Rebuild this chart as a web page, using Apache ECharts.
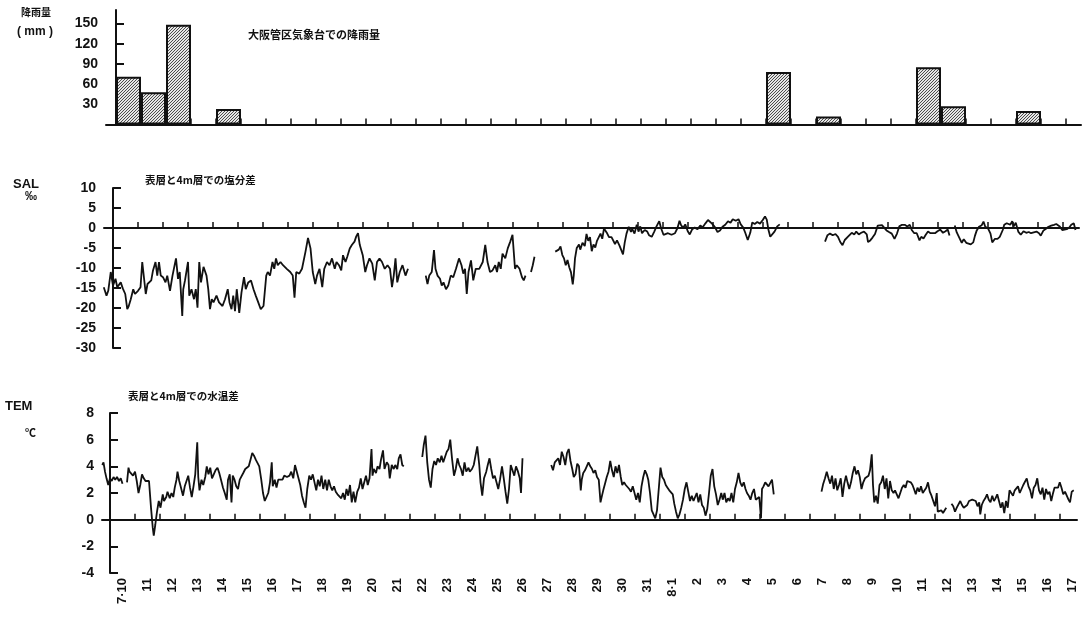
<!DOCTYPE html>
<html><head><meta charset="utf-8">
<script src="https://cdn.jsdelivr.net/npm/echarts@6/dist/echarts.min.js"></script>
<style>html,body{margin:0;padding:0;background:#fff}#c{width:1084px;height:617px}</style>
</head><body><div id="c"></div><script>
const dayLabels = ['7·10','11','12','13','14','15','16','17','18','19','20','21','22','23','24','25','26','27','28','29','30','31','8·1','2','3','4','5','6','7','8','9','10','11','12','13','14','15','16','17'];
const rainDays = [0,1,2,4,26,28,32,33,36];
const rainMM = [71,48,148,23,78,12,85,27,20];
const rainTicks = [30,60,90,120,150];
const salTicks = [10,5,0,-5,-10,-15,-20,-25,-30];
const temTicks = [8,6,4,2,0,-2,-4];

const salSeg1 = [[-0.37,-14.8],[-0.26,-16.9],[-0.19,-15.7],[-0.09,-11.0],[0.00,-14.4],[0.10,-12.7],[0.17,-14.8],[0.31,-13.6],[0.39,-15.1],[0.49,-16.5],[0.57,-20.3],[0.63,-19.5],[0.71,-17.8],[0.81,-15.3],[0.88,-16.5],[1.00,-15.7],[1.10,-14.8],[1.17,-8.5],[1.24,-8.5],[1.31,-16.5],[1.38,-14.0],[1.46,-13.6],[1.53,-13.1],[1.60,-10.6],[1.70,-8.5],[1.77,-11.9],[1.84,-8.5],[1.91,-11.9],[2.00,-12.3],[2.10,-13.6],[2.17,-11.9],[2.28,-15.7],[2.38,-11.9],[2.52,-7.6],[2.60,-12.7],[2.67,-11.0],[2.77,-22.0],[2.81,-15.3],[2.88,-13.1],[3.00,-8.5],[3.05,-16.9],[3.14,-15.3],[3.24,-17.8],[3.31,-15.3],[3.38,-19.9],[3.45,-8.5],[3.52,-13.6],[3.62,-9.7],[3.74,-11.9],[3.81,-15.3],[3.88,-20.3],[3.95,-17.8],[4.02,-18.6],[4.14,-16.9],[4.24,-18.6],[4.38,-19.5],[4.48,-17.8],[4.59,-15.3],[4.66,-18.6],[4.74,-20.3],[4.81,-16.9],[4.88,-20.8],[4.95,-15.3],[5.05,-21.2],[5.14,-16.1],[5.24,-12.3],[5.31,-15.3],[5.41,-13.6],[5.52,-13.1],[5.62,-15.3],[5.71,-16.9],[5.81,-18.6],[5.91,-20.3],[6.02,-19.5],[6.13,-11.9],[6.19,-11.0],[6.28,-11.9],[6.38,-8.5],[6.45,-10.2],[6.52,-7.6],[6.59,-9.3],[6.70,-8.5],[6.80,-9.3],[6.95,-10.2],[7.09,-11.0],[7.19,-11.9],[7.26,-17.4],[7.33,-11.0],[7.45,-11.4],[7.56,-10.2],[7.70,-5.9],[7.80,-2.5],[7.90,-5.1],[7.99,-11.0],[8.09,-14.0],[8.16,-11.9],[8.26,-10.2],[8.37,-14.8],[8.45,-10.2],[8.56,-8.5],[8.66,-9.3],[8.76,-7.6],[8.87,-10.2],[8.94,-8.5],[9.04,-9.3],[9.13,-10.6],[9.20,-6.8],[9.30,-8.5],[9.37,-7.2],[9.47,-5.1],[9.56,-4.2],[9.66,-3.4],[9.73,-2.1],[9.80,-1.3],[9.87,-4.2],[9.99,-6.8],[10.09,-11.0],[10.16,-9.3],[10.26,-7.6],[10.37,-8.9],[10.47,-13.1],[10.56,-8.5],[10.66,-7.6],[10.76,-8.5],[10.87,-10.2],[10.98,-9.3],[11.08,-10.2],[11.16,-14.8],[11.23,-11.9],[11.30,-7.6],[11.37,-13.6],[11.47,-11.0],[11.58,-9.3],[11.70,-11.9],[11.80,-10.2]];
const salSeg2 = [[12.51,-11.9],[12.58,-14.0],[12.65,-11.9],[12.75,-11.0],[12.84,-5.5],[12.90,-10.2],[12.98,-11.9],[13.08,-12.7],[13.15,-14.4],[13.22,-13.6],[13.32,-15.3],[13.41,-14.4],[13.51,-11.9],[13.61,-12.3],[13.72,-10.2],[13.84,-7.6],[13.94,-9.3],[14.01,-11.4],[14.08,-10.2],[14.15,-16.5],[14.22,-11.0],[14.32,-8.1],[14.41,-13.1],[14.51,-10.2],[14.65,-10.2],[14.79,-8.5],[14.89,-4.2],[14.98,-8.5],[15.08,-11.0],[15.18,-10.6],[15.29,-9.3],[15.36,-11.0],[15.43,-8.5],[15.51,-10.2],[15.58,-6.4],[15.69,-7.6],[15.79,-5.1],[15.89,-3.4],[15.98,-1.7],[16.08,-10.2],[16.15,-9.3],[16.26,-10.2],[16.36,-12.3],[16.43,-13.1],[16.50,-11.9]];
const salSeg3 = [[16.72,-11.0],[16.79,-9.3],[16.86,-7.2]];
const salSeg4 = [[17.69,-5.9],[17.76,-6.3],[17.83,-5.4],[17.90,-4.6],[17.97,-6.7],[18.04,-7.6],[18.11,-9.3],[18.18,-8.0],[18.25,-9.8],[18.32,-11.1],[18.39,-14.1],[18.43,-11.9],[18.48,-7.6],[18.55,-5.0],[18.64,-4.1],[18.69,-5.4],[18.78,-3.7],[18.87,-4.5],[18.94,-1.5],[19.01,-3.2],[19.08,-2.3],[19.15,-5.8],[19.22,-4.1],[19.29,-4.9],[19.36,-3.2],[19.43,-3.6],[19.50,-1.4],[19.57,-2.7],[19.64,-0.1],[19.70,-0.5],[19.77,-1.4],[19.84,-2.3],[19.94,-2.3],[20.02,-2.7],[20.08,-4.0],[20.16,-3.1],[20.26,-4.4],[20.33,-4.0],[20.40,-6.6],[20.47,-3.6],[20.54,-1.4],[20.63,0.3],[20.72,-1.0],[20.77,-0.2],[20.86,-1.4],[20.95,0.8],[21.02,-0.9],[21.09,0.4],[21.16,-1.3],[21.27,-0.5],[21.37,-0.9],[21.44,-1.8],[21.55,-2.2],[21.65,-0.9],[21.74,0.4],[21.85,1.7],[21.92,0.0],[22.02,-1.7],[22.10,-1.7],[22.20,-1.3],[22.34,-1.7],[22.48,-1.3],[22.58,0.0],[22.66,1.8],[22.71,0.9],[22.80,0.0],[22.89,0.9],[22.99,-0.8],[23.07,-1.6],[23.17,-0.3],[23.27,0.1],[23.38,-0.3],[23.49,0.6],[23.59,0.2],[23.69,1.1],[23.80,2.0],[23.87,2.4],[23.96,1.1],[24.07,0.3],[24.18,-1.0],[24.28,-0.6],[24.38,0.3],[24.49,0.8],[24.60,1.7],[24.70,1.3],[24.79,2.2],[24.91,1.8],[25.02,2.2],[25.11,0.9],[25.21,0.1],[25.29,-1.2],[25.39,-3.0],[25.49,-1.2],[25.57,1.4],[25.67,1.0],[25.77,1.5],[25.88,1.1],[25.99,2.0],[26.08,2.9],[26.15,2.1],[26.22,-0.5],[26.29,-2.2],[26.36,-1.8],[26.46,-0.9],[26.57,0.4],[26.67,0.9]];
const salSeg5 = [[28.48,-3.4],[28.58,-1.8],[28.68,-1.4],[28.79,-1.8],[28.90,-1.5],[29.00,-2.2],[29.09,-3.5],[29.18,-4.3],[29.27,-3.0],[29.34,-3.4],[29.41,-2.1],[29.48,-2.5],[29.55,-1.2],[29.65,-1.6],[29.73,-0.9],[29.83,-1.6],[29.93,-1.2],[30.04,-0.9],[30.15,-1.6],[30.20,-3.5],[30.29,-3.1],[30.38,-2.4],[30.48,-1.5],[30.59,0.6],[30.66,1.1],[30.76,0.7],[30.84,0.3],[30.94,-0.6],[31.04,-1.0],[31.15,-1.4],[31.26,-2.7],[31.36,-1.4],[31.45,0.4],[31.56,0.8],[31.67,0.8],[31.77,0.4],[31.87,0.8],[31.95,-0.5],[32.05,-1.3],[32.15,-1.3],[32.26,-3.1],[32.33,-2.2],[32.42,-2.6],[32.51,-1.7],[32.60,-0.9],[32.70,-1.3],[32.78,-0.9],[32.88,-1.3],[32.98,-0.8],[33.09,-0.4],[33.20,-1.2],[33.30,-0.8],[33.39,-0.4],[33.46,-1.9]];
const salSeg6 = [[33.67,0.6],[33.75,-1.1],[33.85,-2.4],[33.95,-3.7],[34.03,-2.8],[34.13,-3.7],[34.20,-3.2],[34.31,-4.1],[34.41,-3.6],[34.48,-1.9],[34.55,-0.6],[34.64,0.3],[34.75,0.7],[34.82,1.6],[34.89,0.3],[35.00,-0.1],[35.10,-1.4],[35.17,-3.6],[35.28,-2.7],[35.38,-2.7],[35.47,-2.2],[35.59,-0.5],[35.65,0.8],[35.75,1.2],[35.83,1.7],[35.89,0.8],[35.97,1.7],[36.03,0.4],[36.11,1.3],[36.21,-0.9],[36.31,-1.7],[36.42,-0.8],[36.53,-1.2],[36.63,-1.0],[36.72,-1.3],[36.83,-1.1],[36.94,-0.9],[37.04,-1.3],[37.11,-1.9],[37.22,-0.6],[37.32,-0.2],[37.42,0.3],[37.53,0.6],[37.64,0.8],[37.73,1.0],[37.80,1.3],[37.87,0.4],[37.97,-0.5],[38.05,-0.1],[38.15,-0.3],[38.25,0.1],[38.33,0.8],[38.43,1.2],[38.50,-0.5]];

const temSeg1 = [[-0.31,4.1],[-0.26,4.3],[-0.20,3.6],[-0.14,3.1],[-0.07,2.6],[0.00,3.1],[0.07,2.9],[0.14,3.2],[0.21,3.0],[0.28,3.2],[0.36,2.9],[0.43,3.1],[0.50,2.7]];
const temSeg2 = [[0.68,2.8],[0.74,3.9],[0.78,3.6],[0.85,3.7],[0.92,3.3],[1.00,3.6],[1.07,2.9],[1.14,2.0],[1.21,2.6],[1.28,3.4],[1.35,3.1],[1.42,2.9],[1.49,3.0],[1.56,2.9],[1.64,0.9],[1.71,-0.6],[1.75,-1.2],[1.81,-0.4],[1.88,0.6],[1.95,1.4],[2.02,0.9],[2.11,1.9],[2.16,1.4],[2.25,1.7],[2.30,2.1],[2.39,1.6],[2.46,2.0],[2.53,1.7],[2.59,2.4],[2.66,3.0],[2.70,3.6],[2.77,2.9],[2.84,2.4],[2.92,1.8],[2.99,2.5],[3.06,2.6],[3.13,3.3],[3.20,2.4],[3.27,1.7],[3.34,2.5],[3.41,3.4],[3.49,5.8],[3.53,3.2],[3.58,2.2],[3.66,3.0],[3.73,2.6],[3.81,3.2],[3.87,4.0],[3.94,3.4],[4.01,3.9],[4.08,3.1],[4.15,3.0],[4.22,3.7],[4.30,3.9],[4.37,3.5],[4.44,3.0],[4.52,2.4],[4.59,2.0],[4.67,1.5],[4.72,3.0],[4.79,3.4],[4.86,1.3],[4.91,3.3],[4.98,3.0],[5.05,2.5],[5.12,2.3],[5.19,3.0],[5.26,3.1],[5.33,3.5],[5.41,3.8],[5.48,3.9],[5.55,4.0],[5.62,4.5],[5.69,5.0],[5.76,4.8],[5.83,4.5],[5.90,4.6],[5.97,4.0],[6.05,3.0],[6.12,2.0],[6.19,1.4],[6.26,1.5],[6.33,2.0],[6.40,2.8],[6.47,4.3],[6.51,2.5],[6.59,3.0],[6.66,2.4],[6.73,3.0],[6.80,3.1],[6.90,3.0],[6.97,3.3],[7.08,3.2],[7.18,3.3],[7.25,3.6],[7.33,3.1],[7.40,4.1],[7.47,4.2],[7.54,3.1],[7.61,2.6],[7.68,1.8],[7.75,1.3],[7.82,0.9],[7.89,2.3],[7.97,3.3],[8.04,3.0],[8.11,3.4],[8.18,2.8],[8.25,2.2],[8.32,3.0],[8.39,2.5],[8.46,3.3],[8.53,2.3],[8.61,3.0],[8.68,2.2],[8.75,3.0],[8.82,2.5],[8.89,2.2],[8.96,2.5],[9.03,2.1],[9.10,1.9],[9.17,2.0],[9.25,1.6],[9.32,2.0],[9.39,1.5],[9.46,2.3],[9.53,1.8],[9.60,2.6],[9.67,1.3],[9.74,2.1],[9.81,1.3],[9.89,2.1],[9.96,2.4],[10.03,3.1],[10.10,2.3],[10.17,2.8],[10.24,3.3],[10.31,2.6],[10.38,3.1],[10.46,5.3],[10.50,3.3],[10.55,3.8],[10.64,3.5],[10.70,4.0],[10.78,3.8],[10.84,4.5],[10.92,5.2],[10.98,3.8],[11.07,4.3],[11.14,4.1],[11.19,3.1],[11.27,4.1],[11.35,3.8],[11.41,4.1],[11.49,3.8],[11.55,4.6],[11.62,4.9],[11.69,4.1],[11.75,4.0]];
const temSeg3 = [[12.49,4.7],[12.55,5.6],[12.62,6.3],[12.69,4.3],[12.76,3.0],[12.83,2.4],[12.90,3.8],[12.97,4.4],[13.04,4.1],[13.11,4.6],[13.19,4.3],[13.26,4.8],[13.33,4.3],[13.40,4.7],[13.47,5.1],[13.54,5.3],[13.61,6.0],[13.68,4.6],[13.76,3.3],[13.83,3.8],[13.90,4.6],[13.97,4.1],[14.04,3.8],[14.11,3.3],[14.18,4.3],[14.25,3.6],[14.34,3.9],[14.39,3.6],[14.48,3.8],[14.55,4.1],[14.62,4.8],[14.69,5.5],[14.77,4.1],[14.82,2.8],[14.89,1.8],[14.96,3.1],[15.05,3.6],[15.11,4.1],[15.18,4.6],[15.25,3.8],[15.32,3.1],[15.39,3.3],[15.46,2.8],[15.53,2.3],[15.60,3.0],[15.68,4.0],[15.75,3.1],[15.82,2.1],[15.89,1.2],[15.96,2.3],[16.03,4.1],[16.10,3.7],[16.17,3.3],[16.24,4.0],[16.32,3.6],[16.39,3.1],[16.44,2.0],[16.50,4.6]];
const temSeg4 = [[17.65,4.1],[17.72,3.7],[17.79,4.3],[17.86,4.2],[17.93,4.6],[18.00,4.1],[18.07,5.1],[18.14,4.7],[18.21,4.1],[18.28,5.0],[18.35,5.3],[18.42,4.4],[18.49,3.8],[18.55,3.2],[18.62,3.4],[18.69,4.2],[18.76,4.0],[18.83,2.2],[18.87,3.0],[18.93,3.5],[19.00,3.7],[19.07,4.0],[19.14,4.3],[19.21,4.0],[19.28,3.8],[19.34,3.5],[19.41,3.7],[19.48,3.2],[19.55,3.0],[19.62,1.3],[19.68,1.8],[19.73,2.2],[19.80,2.7],[19.87,3.2],[19.94,3.6],[20.01,4.4],[20.08,3.7],[20.15,3.2],[20.22,4.0],[20.29,3.5],[20.36,4.1],[20.43,3.2],[20.49,2.6],[20.56,2.8],[20.63,2.6],[20.70,2.7],[20.77,2.3],[20.84,2.1],[20.91,2.5],[20.98,2.0],[21.05,1.5],[21.12,2.0],[21.19,1.3],[21.26,2.5],[21.33,3.2],[21.40,3.7],[21.47,3.4],[21.53,3.0],[21.60,2.0],[21.67,0.7],[21.74,0.4],[21.81,0.1],[21.88,0.7],[21.95,2.3],[22.02,3.9],[22.09,3.2],[22.16,3.0],[22.23,2.6],[22.30,2.4],[22.37,2.2],[22.44,2.1],[22.51,1.9],[22.57,1.2],[22.64,0.6],[22.71,0.1],[22.78,0.4],[22.85,0.9],[22.92,1.5],[22.99,2.3],[23.06,2.8],[23.13,2.1],[23.20,1.4],[23.27,1.8],[23.34,1.4],[23.41,1.5],[23.47,2.0],[23.54,1.3],[23.61,1.9],[23.68,1.1],[23.75,0.9],[23.82,0.3],[23.89,0.8],[23.96,2.0],[24.03,3.3],[24.10,3.8],[24.17,2.5],[24.24,1.9],[24.31,1.1],[24.38,1.5],[24.45,2.0],[24.51,1.5],[24.58,2.0],[24.65,1.3],[24.72,1.6],[24.79,1.4],[24.86,2.0],[24.93,1.3],[25.00,2.3],[25.07,2.8],[25.14,3.5],[25.21,2.8],[25.28,2.5],[25.35,2.8],[25.42,2.3],[25.48,2.0],[25.55,1.8],[25.62,1.5],[25.69,2.0],[25.76,2.3],[25.83,1.5],[25.90,1.4],[25.97,1.7],[26.04,0.1],[26.08,2.3],[26.14,2.5],[26.21,2.8],[26.27,2.7],[26.34,2.5],[26.41,2.5],[26.48,3.0],[26.55,1.9]];
const temSeg5 = [[28.46,2.1],[28.53,2.7],[28.60,3.1],[28.67,3.6],[28.74,3.1],[28.81,2.7],[28.88,3.3],[28.95,2.3],[29.02,3.1],[29.09,2.2],[29.16,2.6],[29.23,3.1],[29.30,1.7],[29.37,2.7],[29.44,3.3],[29.50,2.8],[29.57,2.3],[29.64,2.8],[29.71,3.5],[29.78,4.0],[29.85,3.4],[29.92,3.7],[29.99,3.2],[30.06,2.3],[30.13,2.8],[30.20,3.1],[30.27,3.2],[30.34,3.3],[30.40,3.7],[30.47,4.9],[30.52,2.6],[30.57,1.3],[30.64,1.8],[30.71,1.2],[30.78,2.6],[30.85,2.8],[30.92,3.3],[30.99,2.3],[31.06,3.1],[31.13,1.6],[31.20,2.9],[31.27,2.2],[31.34,2.0],[31.40,2.2],[31.47,2.1],[31.54,1.6],[31.61,2.0],[31.68,2.4],[31.75,2.6],[31.82,2.4],[31.89,2.9],[31.96,3.0],[32.03,2.8],[32.10,2.6],[32.16,2.3],[32.23,1.9],[32.30,2.4],[32.37,2.1],[32.44,2.5],[32.51,2.0],[32.58,1.9],[32.65,2.4],[32.72,2.8],[32.79,2.1],[32.86,1.8],[32.93,1.4],[33.00,1.0],[33.07,2.0],[33.11,0.6],[33.18,0.6],[33.25,0.7],[33.32,0.5],[33.38,0.6],[33.45,0.9]];
const temSeg6 = [[33.66,1.2],[33.73,1.0],[33.80,0.6],[33.87,0.9],[33.94,1.0],[34.01,1.4],[34.08,1.1],[34.15,0.9],[34.22,1.0],[34.29,1.1],[34.36,1.4],[34.42,1.3],[34.49,1.5],[34.56,1.6],[34.63,1.4],[34.70,1.0],[34.77,1.3],[34.81,0.4],[34.87,1.1],[34.94,1.4],[35.01,1.6],[35.08,1.9],[35.15,1.5],[35.22,1.3],[35.29,1.8],[35.36,1.4],[35.42,1.6],[35.49,1.9],[35.56,1.4],[35.63,0.9],[35.70,1.3],[35.77,0.5],[35.84,1.4],[35.91,0.9],[35.98,2.2],[36.05,2.3],[36.12,1.8],[36.19,2.2],[36.25,2.1],[36.32,2.5],[36.39,2.0],[36.46,2.3],[36.53,2.6],[36.60,2.7],[36.67,3.1],[36.74,2.5],[36.81,2.2],[36.88,1.6],[36.95,2.4],[37.02,2.6],[37.09,3.1],[37.16,2.2],[37.23,1.9],[37.30,2.4],[37.37,1.5],[37.44,2.3],[37.51,1.9],[37.58,2.1],[37.65,1.4],[37.71,1.9],[37.78,2.4],[37.85,2.5],[37.92,2.4],[37.99,2.8],[38.06,2.4],[38.13,1.9],[38.20,2.1],[38.27,1.8],[38.34,1.5],[38.40,1.3],[38.47,2.1],[38.55,2.2]];

const salSegments = [salSeg1, salSeg2, salSeg3, salSeg4, salSeg5, salSeg6];
const temSegments = [temSeg1, temSeg2, temSeg3, temSeg4, temSeg5, temSeg6];

const dayBounds = dayLabels.map((_, i) => i);
const dayCenters = dayLabels.map((_, i) => i + 0.5);

function hatch() {
  const n = 3;
  const c = document.createElement('canvas');
  c.width = n; c.height = n;
  const g = c.getContext('2d');
  g.fillStyle = '#e6e6e6'; g.fillRect(0, 0, n, n);
  g.strokeStyle = '#3a3a3a'; g.lineWidth = 0.9;
  g.beginPath();
  g.moveTo(0, n); g.lineTo(n, 0);
  g.moveTo(-1, 1); g.lineTo(1, -1);
  g.moveTo(n - 1, n + 1); g.lineTo(n + 1, n - 1);
  g.stroke();
  return c;
}

const INK = '#111';
const FONT = 'Liberation Sans';
const CJK = 'Noto Sans CJK JP';

function xAxis(gridIndex, min, max, labels) {
  return {
    type: 'value', gridIndex, min, max,
    axisLine: { show: true, lineStyle: { color: INK, width: 2 } },
    axisTick: { show: true, inside: true, length: 6, customValues: dayBounds, lineStyle: { color: INK, width: 1.5 } },
    axisLabel: labels ? {
      show: true, customValues: dayCenters, rotate: 90, margin: 5,
      color: INK, fontFamily: FONT, fontWeight: 'bold', fontSize: 13,
      formatter: v => dayLabels[Math.round(v - 0.5)]
    } : { show: false },
    splitLine: { show: false }
  };
}
function yAxis(gridIndex, min, max, ticks) {
  return {
    type: 'value', gridIndex, min, max,
    axisLine: { show: true, lineStyle: { color: INK, width: 2 } },
    axisTick: { show: true, inside: true, length: 8, customValues: ticks, lineStyle: { color: INK, width: 2 } },
    axisLabel: { show: true, customValues: ticks, margin: 8, color: INK, fontFamily: FONT, fontWeight: 'bold', fontSize: 14 },
    splitLine: { show: false }
  };
}

const zeroLine = {
  symbol: ['none', 'none'], silent: true, label: { show: false },
  lineStyle: { color: INK, width: 1.8, type: 'solid' },
  data: [{ yAxis: 0 }]
};

function lineSeries(segs, idx) {
  return segs.map((seg, i) => ({
    type: 'line', xAxisIndex: idx, yAxisIndex: idx, data: seg,
    showSymbol: false, symbol: 'none', silent: true, animation: false,
    lineStyle: { color: INK, width: 1.8 },
    markLine: i === 0 ? zeroLine : undefined
  }));
}

const texts = [
  { t: '降雨量', x: 21, y: 13, f: CJK, s: 10 },
  { t: '( mm )', x: 17, y: 33, f: FONT, s: 12 },
  { t: '大阪管区気象台での降雨量', x: 248, y: 36, f: CJK, s: 11 },
  { t: 'SAL', x: 13, y: 185, f: FONT, s: 13 },
  { t: '‰', x: 25, y: 198, f: FONT, s: 12 },
  { t: '表層と4m層での塩分差', x: 145, y: 181, f: CJK, s: 10.5 },
  { t: 'TEM', x: 5, y: 407, f: FONT, s: 13 },
  { t: '℃', x: 25, y: 434, f: CJK, s: 11 },
  { t: '表層と4m層での水温差', x: 128, y: 397, f: CJK, s: 10.5 }
];

const chart = echarts.init(document.getElementById('c'));
chart.setOption({
  animation: false,
  backgroundColor: '#fff',
  grid: [
    { left: 106, right: 3, top: 10, height: 114.5 },
    { left: 104, right: 5, top: 188, height: 160 },
    { left: 102, right: 7, top: 413, height: 160 }
  ],
  xAxis: [xAxis(0, -0.4, 38.6, false), xAxis(1, -0.36, 38.64, false), xAxis(2, -0.32, 38.68, true)],
  yAxis: [yAxis(0, 0, 170, rainTicks), yAxis(1, -30, 10, salTicks), yAxis(2, -4, 8, temTicks)],
  series: [
    {
      type: 'bar', xAxisIndex: 0, yAxisIndex: 0, barWidth: 25, silent: true,
      data: rainDays.map((d, i) => [d + 0.5, rainMM[i]]),
      itemStyle: { color: { image: hatch(), repeat: 'repeat' }, borderColor: INK, borderWidth: 2 }
    },
    ...lineSeries(salSegments, 1),
    ...lineSeries(temSegments, 2)
  ],
  graphic: texts.map(o => ({
    type: 'text', left: o.x, top: o.y - o.s / 2 - 1, silent: true,
    style: { text: o.t, fill: INK, font: 'bold ' + o.s + 'px "' + o.f + '"' }
  }))
});
</script></body></html>
